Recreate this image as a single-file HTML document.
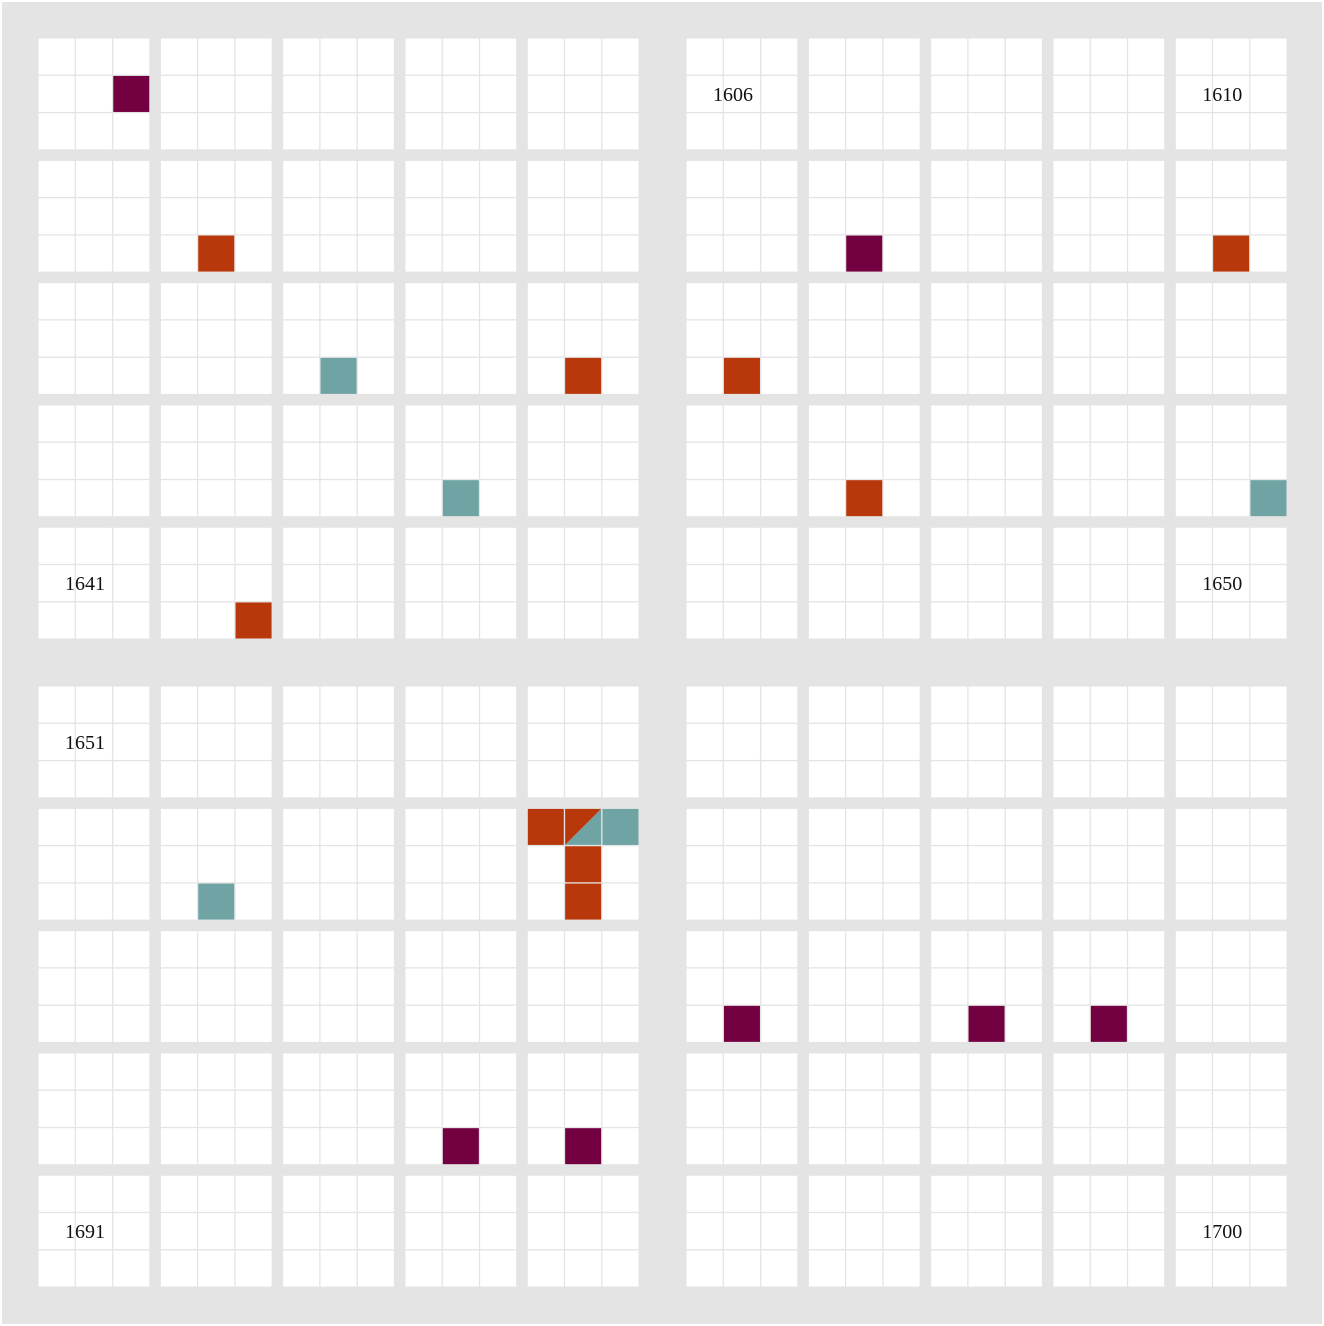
<!DOCTYPE html>
<html><head><meta charset="utf-8">
<style>html,body{margin:0;padding:0;background:#fff;}svg{display:block;}</style>
</head><body>
<svg id="chart" width="1324" height="1326" xmlns="http://www.w3.org/2000/svg"></svg>
<script>
// events: year, row, col, type
const eventYears = [1601,1612,1617,1620,1623,1625,1626,1634,1637,1640,1642,1662,1665,1665,1665,1665,1676,1678,1679,1684,1685];
const eventRows  = [1,2,2,2,2,2,2,2,2,2,2,2,0,0,1,2,2,2,2,2,2];
const eventCols  = [2,1,1,1,1,1,1,1,1,2,2,1,0,2,1,1,1,1,1,1,1];
const eventTypes = ["p","o","p","o","t","o","o","t","o","t","o","t","o","t","o","o","p","p","p","p","p"];
const splitYears = [1665]; const splitRows=[0]; const splitCols=[1];
const labelYears = [1606,1610,1641,1650,1651,1691,1700];
const startYear = 1601;

const colors = {p:"#730040", o:"#b8380c", t:"#6fa3a4"};
const svg = document.getElementById('chart');
const NS = "http://www.w3.org/2000/svg";
function mk(tag, attrs){const e=document.createElementNS(NS,tag);for(const k in attrs)e.setAttribute(k,attrs[k]);svg.appendChild(e);return e;}
const bg = mk('rect',{x:2,y:2,width:1320,height:1322,fill:'#e4e4e4'});



const quadX=[38,686], quadY=[38,686], pitch=122.3, cell=37.33;
function blockPos(year){
  const i=year-startYear; const half=Math.floor(i/50); const w=i%50;
  const row=Math.floor(w/10); const colAll=w%10; const q=Math.floor(colAll/5); const col=colAll%5;
  return {x:quadX[q]+col*pitch, y:quadY[half]+row*pitch};
}
for(let y=startYear;y<startYear+100;y++){
  const b=blockPos(y);
  for(let r=0;r<3;r++)for(let c=0;c<3;c++){
    const e=mk('rect',{x:b.x+c*cell+0.6,y:b.y+r*cell+0.6,width:cell-1.3,height:cell-1.3,fill:'#fff'});
    
    
  }
}
for(let k=0;k<eventYears.length;k++){
  const b=blockPos(eventYears[k]);
  const e=mk('rect',{x:b.x+eventCols[k]*cell+0.6,y:b.y+eventRows[k]*cell+0.6,width:cell-1.3,height:cell-1.3,fill:colors[eventTypes[k]]});
  
  
}
for(let k=0;k<splitYears.length;k++){
  const b=blockPos(splitYears[k]);
  const x0=b.x+splitCols[k]*cell+0.6, y0=b.y+splitRows[k]*cell+0.6, s=cell-1.3;
  const t=mk('polygon',{points:`${x0+s},${y0} ${x0+s},${y0+s} ${x0},${y0+s}`,fill:colors.t});
  
  
  const o=mk('polygon',{points:`${x0},${y0} ${x0+s},${y0} ${x0},${y0+s}`,fill:colors.o});
  
  
}
for(const y of labelYears){
  const b=blockPos(y);
  const t=mk('text',{x:b.x+47,y:b.y+63,'text-anchor':'middle','font-family':'"Liberation Serif", serif','font-size':20,fill:'#111'});
  t.textContent=y;
  
  
}
</script>
</body></html>
